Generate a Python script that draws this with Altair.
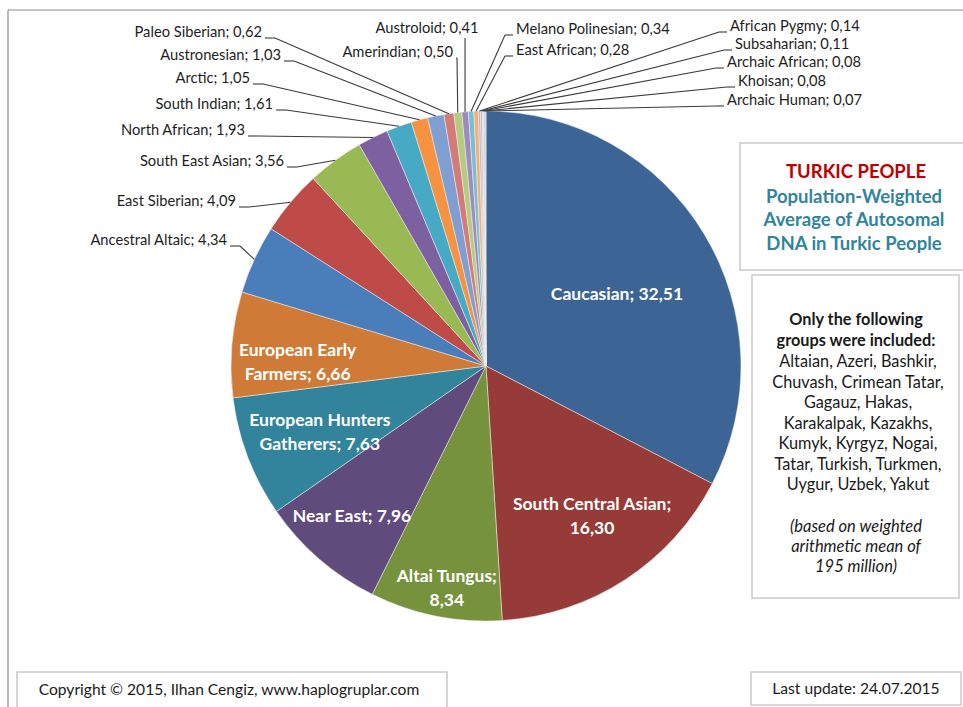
import altair as alt
import pandas as pd

# ---------------- data ----------------
groups = ["Caucasian", "South Central Asian", "Altai Tungus", "Near East",
          "European Hunters Gatherers", "European Early Farmers", "Ancestral Altaic",
          "East Siberian", "South East Asian", "North African", "South Indian", "Arctic",
          "Austronesian", "Paleo Siberian", "Amerindian", "Austroloid", "Melano Polinesian",
          "East African", "African Pygmy", "Subsaharian", "Archaic African", "Khoisan",
          "Archaic Human"]
values = [32.51, 16.30, 8.34, 7.96, 7.63, 6.66, 4.34, 4.09, 3.56, 1.93, 1.61, 1.05, 1.03,
          0.62, 0.50, 0.41, 0.34, 0.28, 0.14, 0.11, 0.08, 0.08, 0.07]
labels = ["Caucasian; 32,51", "South Central Asian;\n16,30", "Altai Tungus;\n8,34",
          "Near East; 7,96", "European Hunters\nGatherers; 7,63", "European Early\nFarmers; 6,66",
          "Ancestral Altaic; 4,34", "East Siberian; 4,09", "South East  Asian; 3,56",
          "North African; 1,93", "South Indian; 1,61", "Arctic; 1,05", "Austronesian; 1,03",
          "Paleo Siberian; 0,62", "Amerindian; 0,50", "Austroloid; 0,41",
          "Melano Polinesian; 0,34", "East African; 0,28", "African Pygmy; 0,14",
          "Subsaharian;  0,11", "Archaic African;  0,08", "Khoisan; 0,08", "Archaic Human; 0,07"]

# ---------------- styles ----------------
colors = ["#3C6596", "#963B38", "#77923C", "#5F4B7C", "#31849B", "#CF7B37",
          "#4A7EBB", "#BE4B48", "#98B954", "#7D60A0", "#46AAC5", "#F69240",
          "#7F9FD2", "#D27B79", "#B3CC80", "#9C8BBC", "#77BFD4", "#F8AE72",
          "#A8BEE0", "#E3A9A8", "#CFDDB0", "#BCB0D0", "#ADD5E3"]

# ---------------- layout ----------------
CX, CY, R = 486, 366, 255
kind = ["in"] * 6 + ["left"] * 9 + ["top"] + ["right"] * 7
lab_x = [0, 0, 0, 0, 0, 0,
         227, 236, 284, 245, 273, 250, 281, 262, 453,
         427,
         516, 516, 730, 735, 727, 738, 727]
lab_y = [0, 0, 0, 0, 0, 0,
         241, 202, 162, 131, 105, 79, 56, 33, 53,
         29,
         30, 51, 27, 45, 63, 82, 101]
stub = [0] * 6 + [10, 10, 10, 10, 10, 10, 10, 10, 1] + [0] + [8] * 7
in_r = [149, 175, 215, 202, 175, 189] + [0] * 17
dang = [2.8, -4.2, -0.9, 0.7, 2.7, -0.2] + [0] * 17

df = pd.DataFrame({
    "group": groups, "value": values, "label": labels, "order": list(range(len(groups))),
    "kind": kind, "lab_x": lab_x, "lab_y": lab_y, "stub": stub, "in_r": in_r, "dang": dang,
})

FONT = "Lato"


def px(field):
    return alt.X(field, type="quantitative", scale=None, axis=None)


def py(field):
    return alt.Y(field, type="quantitative", scale=None, axis=None)


base = (
    alt.Chart(df)
    .transform_window(cum="sum(value)", sort=[alt.SortField("order")])
    .transform_joinaggregate(total="sum(value)")
    .transform_calculate(mid="(datum.cum - datum.value/2) / datum.total * 2 * PI")
    .transform_calculate(
        ex=f"{CX} + {R} * sin(datum.mid)",
        ey=f"{CY} - {R} * cos(datum.mid)",
        ix=f"{CX} + datum.in_r * sin(datum.mid + datum.dang * PI / 180)",
        iy=f"{CY} - datum.in_r * cos(datum.mid + datum.dang * PI / 180)",
    )
    .transform_calculate(
        sy="datum.kind == 'top' ? datum.lab_y + 9 : datum.lab_y + 5",
        sx0="datum.kind == 'left' ? datum.lab_x + 3 : (datum.kind == 'right' ? datum.lab_x - 3 : datum.ex)",
        sx1="datum.kind == 'left' ? datum.lab_x + 3 + datum.stub : (datum.kind == 'right' ? datum.lab_x - 3 - datum.stub : datum.ex)",
    )
)

# frame / boxes
frame = pd.DataFrame({"x": [8, 8], "y": [10, 10], "x2": [963, 8], "y2": [10, 707]})
frame_layer = alt.Chart(frame).mark_rule(color="#8c8c8c", strokeWidth=1.2).encode(
    x=px("x"), y=py("y"), x2="x2", y2="y2")

boxes = pd.DataFrame({"x": [740, 752, 17, 751], "x2": [975, 959, 447, 961],
                      "y": [143, 275, 672, 672], "y2": [270, 598, 712, 705]})
box_layer = alt.Chart(boxes).mark_rect(fill="white", stroke="#c9c9c9", strokeWidth=1.5).encode(
    x=px("x"), x2="x2", y=py("y"), y2="y2")

# pie
pie = alt.Chart(df).mark_arc(radius=R, stroke="#f2f2f2", strokeWidth=0.5).encode(
    theta=alt.Theta("value:Q", stack=True),
    order=alt.Order("order:Q", sort="ascending"),
    color=alt.Color("group:N", scale=alt.Scale(domain=groups, range=colors), legend=None),
    x=alt.value(CX), y=alt.value(CY),
)

outside = base.transform_filter("datum.kind != 'in'")
stubs = outside.mark_rule(color="#3a3a3a", strokeWidth=1.1).encode(
    x=px("sx0:Q"), x2="sx1:Q", y=py("sy:Q"), y2="sy:Q")
leaders = outside.mark_rule(color="#3a3a3a", strokeWidth=1.1).encode(
    x=px("sx1:Q"), x2="ex:Q", y=py("sy:Q"), y2="ey:Q")

lab_style = dict(font=FONT, fontSize=14.7, color="#1e1e1e", baseline="middle")
left_text = base.transform_filter("datum.kind == 'left'").mark_text(align="right", **lab_style).encode(
    x=px("lab_x:Q"), y=py("lab_y:Q"), text="label:N")
right_text = base.transform_filter("datum.kind == 'right'").mark_text(align="left", **lab_style).encode(
    x=px("lab_x:Q"), y=py("lab_y:Q"), text="label:N")
top_text = base.transform_filter("datum.kind == 'top'").mark_text(align="center", **lab_style).encode(
    x=px("lab_x:Q"), y=py("lab_y:Q"), text="label:N")

inside_text = base.transform_filter("datum.kind == 'in'").mark_text(
    align="center", baseline="middle", font=FONT, fontSize=17.5, fontWeight="bold",
    color="white", lineBreak="\n", lineHeight=24).encode(
    x=px("ix:Q"), y=py("iy:Q"), text="label:N")

# title box
title_df = pd.DataFrame({"t": ["TURKIC PEOPLE"], "x": [856], "y": [172]})
title_layer = alt.Chart(title_df).mark_text(font=FONT, fontSize=18.5, fontWeight="bold",
                                            color="#C00000", align="center", baseline="middle").encode(
    x=px("x"), y=py("y"), text="t:N")
sub_df = pd.DataFrame({"t": ["Population-Weighted", "Average of Autosomal", "DNA in Turkic People"],
                       "x": [854, 854, 854], "y": [197, 220, 244]})
sub_layer = alt.Chart(sub_df).mark_text(font=FONT, fontSize=18.5, fontWeight="bold",
                                        color="#31849B", align="center", baseline="middle").encode(
    x=px("x"), y=py("y"), text="t:N")

# groups box
bold_df = pd.DataFrame({"t": ["Only the following", "groups were included:"],
                        "x": [856, 856], "y": [320, 341]})
bold_layer = alt.Chart(bold_df).mark_text(font=FONT, fontSize=16.3, fontWeight="bold",
                                          color="#1a1a1a", align="center", baseline="middle").encode(
    x=px("x"), y=py("y"), text="t:N")
list_lines = ["Altaian, Azeri, Bashkir,", "Chuvash, Crimean Tatar,", "Gagauz, Hakas,",
              "Karakalpak, Kazakhs,", "Kumyk, Kyrgyz, Nogai,", "Tatar, Turkish, Turkmen,",
              "Uygur, Uzbek, Yakut"]
list_df = pd.DataFrame({"t": list_lines, "x": [858] * 7,
                        "y": [362, 382.5, 403, 423.5, 444, 464.5, 485]})
list_layer = alt.Chart(list_df).mark_text(font=FONT, fontSize=16.3, color="#1a1a1a",
                                          align="center", baseline="middle").encode(
    x=px("x"), y=py("y"), text="t:N")
ital_df = pd.DataFrame({"t": ["(based on weighted", "arithmetic mean of", "195 million)"],
                        "x": [856] * 3, "y": [527, 547, 567]})
ital_layer = alt.Chart(ital_df).mark_text(font=FONT, fontSize=16.5, fontStyle="italic",
                                          color="#1a1a1a", align="center", baseline="middle").encode(
    x=px("x"), y=py("y"), text="t:N")

# footers
foot_df = pd.DataFrame({"t": ["Copyright © 2015, Ilhan Cengiz, www.haplogruplar.com",
                              "Last update: 24.07.2015"],
                        "x": [229, 856], "y": [690, 689]})
foot_layer = alt.Chart(foot_df).mark_text(font=FONT, fontSize=15.6, color="#1a1a1a",
                                          align="center", baseline="middle").encode(
    x=px("x"), y=py("y"), text="t:N")

chart = alt.layer(
    frame_layer, box_layer, pie, stubs, leaders, left_text, right_text, top_text, inside_text,
    title_layer, sub_layer, bold_layer, list_layer, ital_layer, foot_layer,
).properties(
    width=963, height=707, padding=0,
    autosize=alt.AutoSizeParams(type="none"), background="white",
).configure_view(stroke=None)

chart.save("out.html", embed_options={"renderer": "svg", "actions": False})
